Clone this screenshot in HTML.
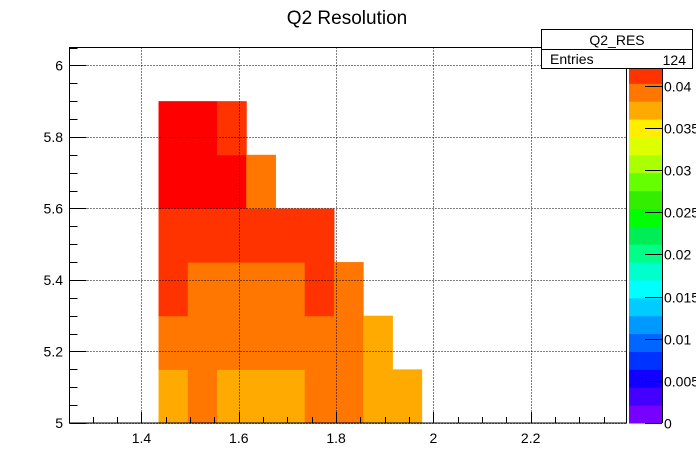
<!DOCTYPE html>
<html><head><meta charset="utf-8"><style>
body{margin:0;background:#fff}
svg text{font-family:"Liberation Sans",sans-serif}
</style></head><body>
<svg width="696" height="471" xmlns="http://www.w3.org/2000/svg">
<text x="347" y="24" font-size="19" text-anchor="middle">Q2 Resolution</text>
<g id="cells"></g>
<g id="grid"></g>
<rect x="69.5" y="47.5" width="557" height="375.5" fill="none" stroke="#000" stroke-width="1"/>
<g id="axes"></g>
<g id="palette"></g>
<g>
<rect x="541.5" y="29.5" width="151" height="39" fill="#fff" stroke="#000"/>
<line x1="541.5" y1="49.5" x2="692.5" y2="49.5" stroke="#000"/>
<text x="617" y="45" font-size="14" text-anchor="middle">Q2_RES</text>
<text x="550" y="64" font-size="14">Entries</text>
<text x="686" y="65" font-size="14" text-anchor="end">124</text>
</g>
</svg>
<script>
const xEdges0 = 1.435, binW = 0.0601;
const yEdges0 = 5.0, binH = 0.15;
// rows from y=5.0 upwards; null = empty
const rowValues = [
 [0.037,0.039,0.037,0.037,0.037,0.039,0.039,0.037,0.037],
 [0.039,0.039,0.039,0.039,0.039,0.039,0.039,0.037,null],
 [0.041,0.039,0.039,0.039,0.039,0.041,0.039,null,null],
 [0.041,0.041,0.041,0.041,0.041,0.041,null,null,null],
 [0.043,0.043,0.043,0.039,null,null,null,null,null],
 [0.043,0.043,0.041,null,null,null,null,null,null]
];
const xTicks = [1.4,1.6,1.8,2.0,2.2];
const xTickLabels = ["1.4","1.6","1.8","2","2.2"];
const yTicks = [5,5.2,5.4,5.6,5.8,6];
const yTickLabels = ["5","5.2","5.4","5.6","5.8","6"];
const zTicks = [0,0.005,0.01,0.015,0.02,0.025,0.03,0.035,0.04];
const zTickLabels = ["0","0.005","0.01","0.015","0.02","0.025","0.03","0.035","0.04"];
const paletteColors = ["#7700ff","#4400ff","#1100ff","#0033ff","#0066ff","#0099ff","#00ccff","#00ffff","#00ffcc","#00ff88","#00ee55","#00ff00","#33ee00","#66ff00","#aaff00","#ddff00","#ffee00","#ffaa00","#ff7700","#ff3300"];
const overflowColor = "#ff0000";
const zMax = 0.0424;

const NS="http://www.w3.org/2000/svg";
const X0=1.252, X1=2.397, px0=69.5, px1=626.5;
const Y0=5, Y1=6.05, py0=423, py1=47.5;
const sx=v=>px0+(v-X0)/(X1-X0)*(px1-px0);
const sy=v=>py0-(v-Y0)/(Y1-Y0)*(py0-py1);
const zc=v=>{if(v>zMax)return overflowColor;let i=Math.floor(v/zMax*20);if(i<0)i=0;if(i>19)i=19;return paletteColors[i];};
function mk(tag,attrs,parent){const e=document.createElementNS(NS,tag);for(const k in attrs)e.setAttribute(k,attrs[k]);parent.appendChild(e);return e;}
const cells=document.getElementById('cells');
rowValues.forEach((row,r)=>row.forEach((v,c)=>{
 if(v===null)return;
 const xa=sx(xEdges0+c*binW), xb=sx(xEdges0+(c+1)*binW);
 const ya=sy(yEdges0+(r+1)*binH), yb=sy(yEdges0+r*binH);
 const e=mk('rect',{x:xa,y:ya,width:xb-xa+0.5,height:yb-ya+0.5,fill:zc(v)},cells);
 
 
}));
const grid=document.getElementById('grid');
xTicks.forEach(t=>{const x=Math.round(sx(t))+0.5;const l=mk('line',{x1:x,y1:py1,x2:x,y2:py0,stroke:'#000','stroke-dasharray':'1,2'},grid);
 });
yTicks.forEach(t=>{const y=Math.round(sy(t))+0.5;const l=mk('line',{x1:px0,y1:y,x2:px1,y2:y,stroke:'#000','stroke-dasharray':'1,2'},grid);
 });
const axes=document.getElementById('axes');
for(let t=1.25;t<=2.4;t+=0.05){const x=Math.round(sx(t))+0.5;if(x<px0||x>px1)continue;
 const maj=xTicks.some(m=>Math.abs(m-t)<1e-6);
 const l=mk('line',{x1:x,y1:py0,x2:x,y2:py0-(maj?11:6),stroke:'#000'},axes);
 }
for(let t=5;t<=6.05;t+=0.05){const y=Math.round(sy(t))+0.5;
 const maj=yTicks.some(m=>Math.abs(m-t)<1e-6);
 const l=mk('line',{x1:px0,y1:y,x2:px0+(maj?17:8),y2:y,stroke:'#000'},axes);
 }
xTicks.forEach((t,i)=>{const e=mk('text',{x:sx(t),y:443,'font-size':14,'text-anchor':'middle'},axes);e.textContent=xTickLabels[i];
 });
yTicks.forEach((t,i)=>{const e=mk('text',{x:63,y:sy(t)+5,'font-size':14,'text-anchor':'end'},axes);e.textContent=yTickLabels[i];
 });
// palette
const pal=document.getElementById('palette');
const pl=629,pr=662,pb=423,ppu=(423-85.7)/0.04;
const zy=v=>pb-v*ppu;
paletteColors.forEach((c,i)=>{const ya=zy((i+1)*zMax/20), yb=zy(i*zMax/20);
 const e=mk('rect',{x:pl,y:ya,width:pr-pl,height:yb-ya+0.5,fill:c},pal);
 });
mk('line',{x1:pr+0.5,y1:zy(zMax),x2:pr+0.5,y2:pb,stroke:'#000'},pal);
zTicks.forEach((t,i)=>{const y=Math.round(zy(t))+0.5;
 const l=mk('line',{x1:pr-17,y1:y,x2:pr,y2:y,stroke:'#000'},pal);
 
 const e=mk('text',{x:664,y:y+5,'font-size':14},pal);e.textContent=zTickLabels[i];
 });
</script>
</body></html>
